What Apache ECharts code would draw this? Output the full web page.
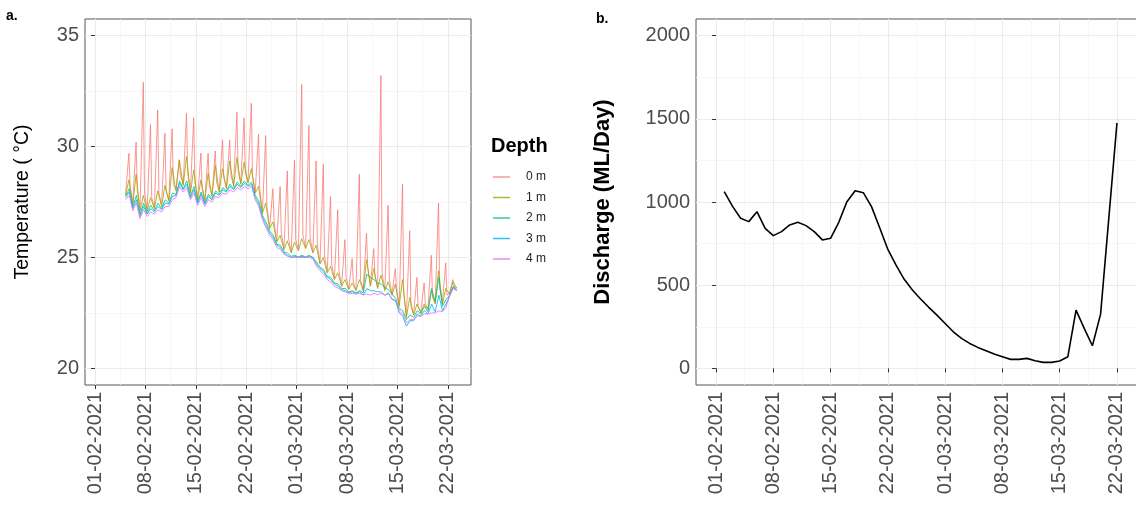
<!DOCTYPE html>
<html>
<head>
<meta charset="utf-8">
<script src="https://cdn.jsdelivr.net/npm/echarts@6/dist/echarts.min.js"></script>
<style>html,body{margin:0;padding:0;background:#fff}#c{width:1136px;height:506px}</style>
</head>
<body>
<div id="c"></div>
<script>
// ---------- data ----------
// x positions are days since 01-02-2021 00:00
const xTickDays = [0, 7, 14, 21, 28, 35, 42, 49];
const xTickLabels = ['01-02-2021', '08-02-2021', '15-02-2021', '22-02-2021', '01-03-2021', '08-03-2021', '15-03-2021', '22-03-2021'];
const xMinorDays = [3.5, 10.5, 17.5, 24.5, 31.5, 38.5, 45.5];
const tempTicks = [20, 25, 30, 35];
const tempMinor = [22.5, 27.5, 32.5];
const dischargeTicks = [0, 500, 1000, 1500, 2000];
const dischargeMinor = [250, 750, 1250, 1750];
const depthNames = ['0 m', '1 m', '2 m', '3 m', '4 m'];

// days of the temperature record (05-02 .. 23-03)
const tempDays = [4,5,6,7,8,9,10,11,12,13,14,15,16,17,18,19,20,21,22,23,24,25,26,27,28,29,30,31,32,33,34,35,36,37,38,39,40,41,42,43,44,45,46,47,48,49,50];
const hours0m = [6, 17, 21];
const hours1m = [6, 17];
const hoursDeep = [6, 18];

const temp0m = [
27.85,29.7,28.2, 27.45,30.2,28.0, 27.15,32.9,27.9, 27.15,31.0,27.7, 27.25,31.65,27.9,
27.35,30.6,28.0, 27.6,30.8,28.3, 28.05,29.4,28.7, 28.3,31.5,28.8, 27.95,31.3,28.4,
27.65,29.7,28.1, 27.6,29.7,28.2, 27.8,29.8,28.4, 28.0,30.3,28.6, 28.15,30.3,28.7,
28.25,31.55,28.9, 28.35,31.3,28.8, 28.4,31.95,28.7, 27.95,30.55,28.1, 27.05,30.5,27.3,
26.35,28.1,26.6, 25.75,28.2,26.1, 25.4,28.9,25.9, 25.25,29.4,25.8, 25.35,32.8,26.0,
25.45,30.95,25.9, 25.25,29.35,25.6, 24.75,29.2,25.1, 24.35,27.75,24.7, 24.05,27.15,24.4,
23.75,25.8,24.1, 23.6,24.95,23.9, 23.55,28.75,24.0, 23.55,26.1,24.6, 23.75,25.4,24.2,
23.65,33.2,24.3, 23.55,27.35,24.0, 23.35,24.5,23.6, 22.85,28.3,23.4, 22.35,26.2,22.8,
22.45,24.1,22.8, 22.55,23.85,22.9, 22.7,25.1,23.2, 22.95,27.45,23.6, 22.95,24.75,23.3,
23.4,24.0,23.7, 23.65
];
const temp1m = [
27.8,28.5, 27.4,28.75, 27.1,27.8, 27.1,27.7, 27.2,28.0, 27.3,28.25, 27.55,29.05, 28.0,29.4,
28.25,29.55, 27.9,28.95, 27.6,28.5, 27.55,28.8, 27.75,29.15, 27.95,29.0, 28.1,29.35, 28.2,29.5,
28.3,29.3, 28.35,29.0, 27.9,28.2, 27.0,27.45, 26.3,26.6, 25.7,26.0, 25.35,25.75, 25.2,25.7,
25.3,25.85, 25.4,25.8, 25.2,25.55, 24.7,25.0, 24.3,24.6, 24.0,24.3, 23.7,24.0, 23.55,23.85,
23.5,24.0, 23.5,24.9, 23.7,24.5, 23.6,24.2, 23.5,23.9, 23.3,23.8, 22.8,24.0, 22.3,23.2,
22.4,22.9, 22.5,22.9, 22.65,23.5, 22.9,24.4, 22.9,23.6, 23.35,23.9, 23.6
];
const temp2m = [
27.75,28.1, 27.3,27.8, 26.95,27.45, 27.0,27.35, 27.1,27.45, 27.2,27.6, 27.45,27.9, 27.85,28.45,
28.1,28.45, 27.75,28.2, 27.5,27.95, 27.45,27.85, 27.65,28.0, 27.85,28.15, 28.0,28.3, 28.1,28.4,
28.2,28.45, 28.25,28.4, 27.8,27.55, 26.9,26.6, 26.2,26.0, 25.6,25.55, 25.25,25.2, 25.05,25.1,
25.02,25.1, 25.02,25.1, 25.0,24.8, 24.55,24.45, 24.15,24.1, 23.85,23.8, 23.6,23.6, 23.45,23.5,
23.4,23.5, 23.4,24.25, 24.1,24.0, 23.85,23.8, 23.65,23.55, 23.35,23.15, 22.7,22.6, 22.2,22.4,
22.3,22.6, 22.45,22.8, 22.55,23.6, 23.0,24.1, 22.8,23.1, 23.3,23.7, 23.55
];
const temp3m = [
27.7,27.95, 27.2,27.6, 26.85,27.3, 26.95,27.2, 27.05,27.3, 27.15,27.45, 27.4,27.75, 27.8,28.35,
28.05,28.3, 27.7,28.05, 27.45,27.85, 27.4,27.75, 27.6,27.9, 27.8,28.05, 27.95,28.2, 28.05,28.3,
28.15,28.35, 28.2,28.3, 27.7,27.4, 26.8,26.45, 26.1,25.9, 25.55,25.45, 25.2,25.1, 25.0,25.05,
25.0,25.05, 25.0,25.05, 25.0,24.7, 24.5,24.35, 24.1,24.0, 23.8,23.7, 23.55,23.5, 23.42,23.45,
23.38,23.45, 23.3,23.6, 23.5,23.5, 23.45,23.45, 23.3,23.4, 23.1,23.05, 22.5,22.35, 21.9,22.15,
22.15,22.45, 22.35,22.6, 22.45,22.9, 22.55,23.3, 22.6,22.9, 23.25,23.65, 23.5
];
const temp4m = [
27.6,27.8, 27.1,27.45, 26.75,27.15, 26.85,27.05, 26.95,27.15, 27.05,27.3, 27.3,27.6, 27.7,28.2,
27.95,28.15, 27.6,27.9, 27.35,27.7, 27.3,27.6, 27.5,27.75, 27.7,27.9, 27.85,28.05, 27.95,28.15,
28.05,28.2, 28.1,28.2, 27.6,27.3, 26.7,26.35, 26.0,25.8, 25.45,25.35, 25.15,25.05, 25.0,25.0,
25.0,25.0, 25.0,25.0, 24.95,24.6, 24.4,24.25, 24.0,23.9, 23.7,23.62, 23.5,23.45, 23.38,23.38,
23.35,23.38, 23.32,23.35, 23.3,23.38, 23.32,23.38, 23.3,23.35, 23.15,23.05, 22.6,22.45, 22.05,22.2,
22.2,22.35, 22.35,22.45, 22.45,22.5, 22.5,22.6, 22.55,22.75, 23.3,23.6, 23.5
];

// discharge, daily (02-02 .. 22-03)
const dischargeDays = [1,2,3,4,5,6,7,8,9,10,11,12,13,14,15,16,17,18,19,20,21,22,23,24,25,26,27,28,29,30,31,32,33,34,35,36,37,38,39,40,41,42,43,44,45,46,47,48,49];
const discharge = [1062,975,902,882,942,842,798,822,862,878,858,822,772,782,878,1002,1068,1056,972,845,715,620,535,471,417,367,320,270,220,180,150,126,106,86,70,54,54,60,46,36,36,44,70,350,240,136,326,900,1475];

// ---------- build ----------
function buildSeries(values, hours) {
  const out = [];
  let i = 0;
  for (const d of tempDays) {
    for (const h of hours) {
      if (i < values.length) out.push([d + h / 24, values[i++]]);
    }
  }
  return out;
}
const tempSets = [
  {v: temp0m, h: hours0m, c: 'rgba(248,118,109,0.75)'},
  {v: temp1m, h: hours1m, c: 'rgba(163,165,0,0.8)'},
  {v: temp2m, h: hoursDeep, c: 'rgba(0,191,125,0.8)'},
  {v: temp3m, h: hoursDeep, c: 'rgba(0,176,246,0.8)'},
  {v: temp4m, h: hoursDeep, c: 'rgba(231,107,243,0.8)'}
];

const FONT = 'Liberation Sans, Arial, sans-serif';
const tickLabel = {fontSize: 20, color: '#4D4D4D', fontFamily: FONT};
const majorGrid = {show: true, lineStyle: {color: '#EBEBEB', width: 1.1}};
const minorGrid = {show: true, lineStyle: {color: '#F4F4F4', width: 0.7}};

function mainX(gridIndex, min, max) {
  return {
    type: 'value', gridIndex, min, max,
    axisLine: {show: false},
    axisTick: {show: true, customValues: xTickDays, length: 4, lineStyle: {color: '#333', width: 1}},
    axisLabel: Object.assign({customValues: xTickDays, rotate: 90, margin: 7,
      formatter: v => xTickLabels[xTickDays.indexOf(Math.round(v))] || ''}, tickLabel),
    splitLine: majorGrid
  };
}
function minorX(gridIndex, min, max) {
  return {
    type: 'value', gridIndex, min, max, position: 'bottom',
    axisLine: {show: false},
    axisTick: {show: false, customValues: xMinorDays},
    axisLabel: {show: false},
    splitLine: minorGrid
  };
}
function mainY(gridIndex, min, max, ticks, name, nameGap, nameStyle) {
  return {
    type: 'value', gridIndex, min, max,
    name, nameLocation: 'middle', nameGap, nameTextStyle: nameStyle,
    axisLine: {show: false},
    axisTick: {show: true, customValues: ticks, length: 4, lineStyle: {color: '#333', width: 1}},
    axisLabel: Object.assign({customValues: ticks, margin: 6, formatter: v => String(v)}, tickLabel),
    splitLine: majorGrid
  };
}
function minorY(gridIndex, min, max, ticks) {
  return {
    type: 'value', gridIndex, min, max, position: 'left',
    axisLine: {show: false},
    axisTick: {show: false, customValues: ticks},
    axisLabel: {show: false},
    splitLine: minorGrid
  };
}

const series = tempSets.map((s, i) => ({
  name: depthNames[i], type: 'line', xAxisIndex: 0, yAxisIndex: 0,
  data: buildSeries(s.v, s.h), showSymbol: false, symbol: 'none',
  color: s.c, lineStyle: {color: s.c, width: 1}, z: 3 + i
}));
series.push({
  name: 'Discharge', type: 'line', xAxisIndex: 2, yAxisIndex: 2,
  data: dischargeDays.map((d, i) => [d, discharge[i]]),
  showSymbol: false, symbol: 'none', color: '#000',
  lineStyle: {color: '#000', width: 1.6}, z: 3
});

const chart = echarts.init(document.getElementById('c'), null, {renderer: 'canvas'});
chart.setOption({
  animation: false,
  backgroundColor: '#fff',
  textStyle: {fontFamily: FONT},
  title: [
    {text: 'a.', left: 6, top: 9, padding: 0, textStyle: {fontSize: 14, fontWeight: 'bold', color: '#000', fontFamily: FONT}},
    {text: 'b.', left: 596, top: 12, padding: 0, textStyle: {fontSize: 14, fontWeight: 'bold', color: '#000', fontFamily: FONT}},
    {text: 'Depth', left: 491, top: 136, padding: 0, textStyle: {fontSize: 20, fontWeight: 'bold', color: '#000', fontFamily: FONT}}
  ],
  legend: {
    data: depthNames, orient: 'vertical', left: 493, top: 171, padding: 0,
    icon: 'rect', itemWidth: 17, itemHeight: 1.5, itemGap: 8.5,
    textStyle: {fontSize: 12, color: '#222', fontFamily: FONT, padding: [0, 0, 0, 11]},
    selectedMode: false
  },
  grid: [
    {left: 85, top: 19, width: 386, height: 366, show: true, borderColor: '#555', borderWidth: 1, backgroundColor: 'transparent', containLabel: false, outerBoundsMode: 'none'},
    {left: 696, top: 19, width: 441, height: 366, show: true, borderColor: '#555', borderWidth: 1, backgroundColor: 'transparent', containLabel: false, outerBoundsMode: 'none'}
  ],
  xAxis: [
    mainX(0, -1.39, 52.22), minorX(0, -1.39, 52.22),
    mainX(1, -2.45, 51.45), minorX(1, -2.45, 51.45)
  ],
  yAxis: [
    mainY(0, 19.25, 35.75, tempTicks, 'Temperature ( °C)', 52, {fontSize: 19.5, color: '#000', fontFamily: FONT}),
    minorY(0, 19.25, 35.75, tempMinor),
    mainY(1, -100, 2100, dischargeTicks, 'Discharge (ML/Day)', 82, {fontSize: 22, fontWeight: 'bold', color: '#000', fontFamily: FONT}),
    minorY(1, -100, 2100, dischargeMinor)
  ],
  series
});
</script>
</body>
</html>
